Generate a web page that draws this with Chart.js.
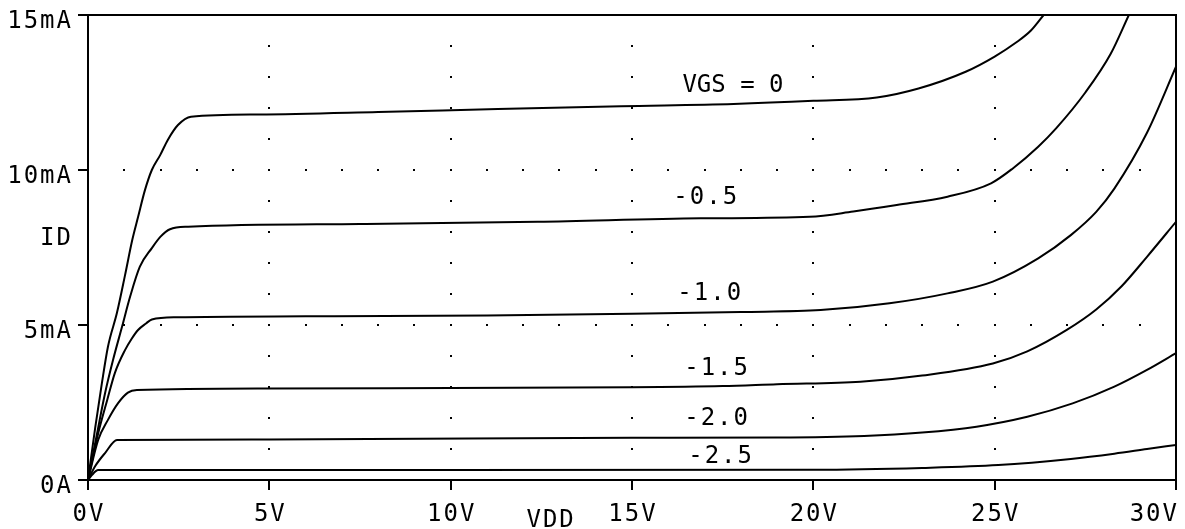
<!doctype html>
<html lang="en">
  <head>
    <meta charset="utf-8">
    <title>VDD / ID</title>
    <style>
      * { margin: 0; padding: 0; }
      body { background: #fff; }
      .chartBox { width: 1185px; height: 529px; }
    </style>
  </head>
  <body>
    <div class="chartBox"><canvas id="myChart"></canvas></div>
    <script src="https://cdn.jsdelivr.net/npm/chart.js/dist/chart.umd.min.js"></script>
    <script>
    // axis ticks
    const xTicks = [0, 5, 10, 15, 20, 25, 30];
    const xTickLabels = ['0V', '5V', '10V', '15V', '20V', '25V', '30V'];
    const yTicks = [0, 5, 10, 15];
    const yTickLabels = ['0A', '5mA', '10mA', '15mA'];

    // drain curves, VDD in volts, ID in mA
    const vdd0  = [0, 0.2, 0.38, 0.55, 0.8, 1.02, 1.22, 1.38, 1.57, 1.76, 1.99, 2.2, 2.48, 2.84, 4.7, 8, 11.3, 14.7, 17.8, 20, 21.75, 22.9, 24.2, 25, 25.6, 26.0, 26.35];
    const id0   = [0, 1.7, 3.1, 4.3, 5.4, 6.6, 7.74, 8.48, 9.35, 10.0, 10.48, 10.97, 11.45, 11.72, 11.79, 11.87, 11.97, 12.06, 12.13, 12.23, 12.34, 12.63, 13.17, 13.66, 14.12, 14.5, 15];

    const vdd05 = [0, 0.25, 0.47, 0.69, 0.94, 1.16, 1.43, 1.76, 2.0, 2.26, 2.76, 7.5, 12.4, 16.9, 19.9, 21.1, 22.3, 23.7, 24.9, 25.5, 26.2, 26.7, 27.5, 28.2, 28.7];
    const id05  = [0, 1.5, 2.8, 3.87, 4.95, 5.91, 6.88, 7.48, 7.85, 8.09, 8.17, 8.26, 8.33, 8.44, 8.49, 8.66, 8.87, 9.14, 9.57, 10.05, 10.75, 11.35, 12.5, 13.75, 15];

    const vdd10 = [0, 0.28, 0.53, 0.74, 1.02, 1.2, 1.38, 1.6, 1.76, 2.45, 6, 11, 15, 18, 20.2, 22.1, 23.7, 24.95, 26.2, 27.1, 27.8, 28.3, 29.2, 30];
    const id10  = [0, 1.5, 2.58, 3.45, 4.19, 4.55, 4.84, 5.05, 5.18, 5.25, 5.28, 5.31, 5.36, 5.42, 5.48, 5.70, 6.02, 6.40, 7.15, 7.9, 8.65, 9.4, 11.2, 13.33];

    const vdd15 = [0, 0.28, 0.55, 0.83, 1.1, 1.35, 5, 10, 15, 17.5, 19, 21.3, 23, 24.95, 25.9, 27, 27.8, 28.5, 29.2, 30];
    const id15  = [0, 1.29, 1.94, 2.48, 2.82, 2.90, 2.95, 2.97, 2.99, 3.03, 3.09, 3.17, 3.37, 3.76, 4.15, 4.85, 5.5, 6.25, 7.2, 8.33];

    const vdd20 = [0, 0.2, 0.47, 0.8, 5, 15, 19, 21.4, 23, 24.5, 25.9, 27.15, 28.3, 29.2, 30];
    const id20  = [0, 0.45, 0.87, 1.29, 1.31, 1.36, 1.37, 1.42, 1.53, 1.72, 2.04, 2.47, 3.01, 3.55, 4.09];

    const vdd25 = [0, 0.1, 0.28, 10, 20, 23, 25.1, 27.1, 28.3, 29.2, 30];
    const id25  = [0, 0.15, 0.32, 0.32, 0.33, 0.39, 0.48, 0.68, 0.85, 1.0, 1.13];

    const curveNames = ['VGS = 0', '-0.5', '-1.0', '-1.5', '-2.0', '-2.5'];
    const curveV = [vdd0, vdd05, vdd10, vdd15, vdd20, vdd25];
    const curveI = [id0, id05, id10, id15, id20, id25];

    // where each curve name sits (VDD, ID at text baseline)
    const nameAnchors = [[16.39, 12.52], [16.14, 8.9], [16.25, 5.81], [16.44, 3.39], [16.44, 1.77], [16.55, 0.55]];

    const FONT = '24px "DejaVu Sans Mono", monospace';

    const data = {
      datasets: curveNames.map((name, k) => ({
        label: name,
        data: curveV[k].map((v, i) => ({ x: v, y: curveI[k][i] })),
        borderColor: '#000',
        borderWidth: 2,
        pointRadius: 0,
        cubicInterpolationMode: 'monotone',
        fill: false
      }))
    };

    // dotted grid, frame and all texts
    const scopeLook = {
      id: 'scopeLook',
      beforeDatasetsDraw(chart) {
        const { ctx, chartArea: a, scales: { x, y } } = chart;
        ctx.save();
        ctx.fillStyle = '#000';
        // dots along the 5V verticals, one per mA
        for (let v = 5; v < 30; v += 5) {
          for (let m = 1; m < 15; m++) {
            ctx.fillRect(Math.round(x.getPixelForValue(v)) - 1, Math.round(y.getPixelForValue(m)) - 1, 2, 2);
          }
        }
        // dots along the 5mA horizontals, one per volt
        for (let m = 5; m < 15; m += 5) {
          for (let v = 1; v < 30; v++) {
            ctx.fillRect(Math.round(x.getPixelForValue(v)) - 1, Math.round(y.getPixelForValue(m)) - 1, 2, 2);
          }
        }
        // top and right side of the frame
        ctx.strokeStyle = '#000';
        ctx.lineWidth = 2;
        ctx.beginPath();
        ctx.moveTo(a.left, a.top);
        ctx.lineTo(a.right, a.top);
        ctx.lineTo(a.right, a.bottom);
        ctx.stroke();
        ctx.restore();
      },
      afterDatasetsDraw(chart) {
        const { ctx, scales: { x, y } } = chart;
        ctx.save();
        ctx.font = FONT;
        ctx.fillStyle = '#000';
        ctx.textBaseline = 'alphabetic';
        ctx.letterSpacing = '2px';

        // y tick labels
        ctx.textAlign = 'right';
        yTicks.forEach((v, i) => {
          ctx.fillText(yTickLabels[i], x.left - 15, y.getPixelForValue(v) + 13);
        });
        ctx.fillText('ID', x.left - 15, y.getPixelForValue(7.58));

        // x tick labels, the last one kept inside the canvas
        xTicks.forEach((v, i) => {
          const px = x.getPixelForValue(v);
          const w = ctx.measureText(xTickLabels[i]).width;
          if (px + w / 2 > chart.width - 4) {
            ctx.textAlign = 'right';
            ctx.fillText(xTickLabels[i], px + 3, 521);
          } else {
            ctx.textAlign = 'center';
            ctx.fillText(xTickLabels[i], px + 1, 521);
          }
        });
        ctx.textAlign = 'center';
        ctx.fillText('VDD', x.getPixelForValue(12.77), 527);

        // curve names
        ctx.textAlign = 'left';
        curveNames.forEach((name, k) => {
          ctx.letterSpacing = k === 0 ? '0px' : '2px';
          const [v, m] = nameAnchors[k];
          ctx.fillText(name, x.getPixelForValue(v), y.getPixelForValue(m));
        });
        ctx.restore();
      }
    };

    const axisGrid = {
      drawOnChartArea: false,
      drawTicks: true,
      tickLength: 10,
      color: '#000',
      lineWidth: 2
    };

    const config = {
      type: 'line',
      data: data,
      options: {
        responsive: true,
        maintainAspectRatio: false,
        animation: false,
        layout: {
          autoPadding: false,
          padding: { top: 15, right: 9, left: 0, bottom: 0 }
        },
        scales: {
          x: {
            type: 'linear',
            min: 0,
            max: 30,
            afterBuildTicks: (s) => { s.ticks = xTicks.map(v => ({ value: v })); },
            ticks: { display: false },
            grid: axisGrid,
            border: { color: '#000', width: 2 },
            afterFit: (s) => { s.height = 49; }
          },
          y: {
            type: 'linear',
            min: 0,
            max: 15,
            afterBuildTicks: (s) => { s.ticks = yTicks.map(v => ({ value: v })); },
            ticks: { display: false },
            grid: axisGrid,
            border: { color: '#000', width: 2 },
            afterFit: (s) => { s.width = 88; }
          }
        },
        plugins: {
          legend: { display: false },
          tooltip: { enabled: false }
        }
      },
      plugins: [scopeLook]
    };

    const myChart = new Chart(document.getElementById('myChart'), config);
    </script>
  </body>
</html>
